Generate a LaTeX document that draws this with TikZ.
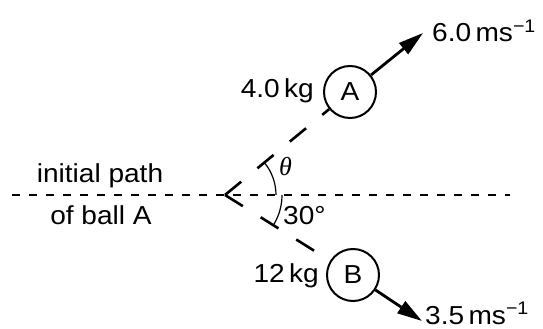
\documentclass[tikz,border=0pt]{standalone}
\usepackage{fontspec}
\setmainfont{Liberation Sans}[FakeStretch=1.08]
\newfontfamily\thetafont{Liberation Serif}
\usetikzlibrary{arrows.meta,calc}
\begin{document}
\begin{tikzpicture}[x=1pt,y=1pt,
  ball/.style={circle,draw,line width=2pt,minimum size=52pt,inner sep=0pt,font=\fontsize{26}{30}\selectfont},
  lbl/.style={inner sep=0pt,font=\fontsize{26}{30}\selectfont},
  slant/.style={line width=2.6pt,dash pattern=on 21pt off 21pt},
  vel/.style={line width=2.8pt,-{Triangle[length=25pt,width=14pt]}},
  guide/.style={line width=1.3pt,dash pattern=on 8pt off 9pt},
  angarc/.style={line width=1.2pt}]
\useasboundingbox (0,0) rectangle (543,329);
\coordinate (V) at (225,134);
\coordinate (L) at (12,134);
\coordinate (R) at (510,134);
\node[ball] (A) at (350,237) {A};
\node[ball] (B) at (353,54) {B};
\coordinate (TA) at (423,296);
\coordinate (TB) at (422,8);
\draw[guide] (L) -- (R);
\draw[slant] (V) -- (A);
\draw[slant] (V) -- (B);
\draw[vel] (A) -- (TA);
\draw[vel] (B) -- (TB);
\draw[angarc] ($(V)+(51,0)$) arc[start angle=0,end angle=38.5,radius=51];
\draw[angarc] ($(V)+(57,0)$) arc[start angle=0,end angle=-32,radius=57];
\node[lbl,anchor=base east] (mA) at (314,231) {4.0\,kg};
\node[lbl,anchor=base east] (mB) at (319,46) {12\,kg};
\node[lbl,anchor=base west] (vA) at (432,287) {6.0\,ms\textsuperscript{−1}};
\node[lbl,anchor=base west] (vB) at (425,5) {3.5\,ms\textsuperscript{−1}};
\node[lbl,anchor=base] (ip1) at (100,146) {initial path};
\node[lbl,anchor=base] (ip2) at (101,104) {of ball A};
\node[lbl,anchor=base west] (th) at (279,153) {\thetafont\itshape θ};
\node[lbl,anchor=base west] (ang) at (283,104) {30°};
\end{tikzpicture}
\end{document}
